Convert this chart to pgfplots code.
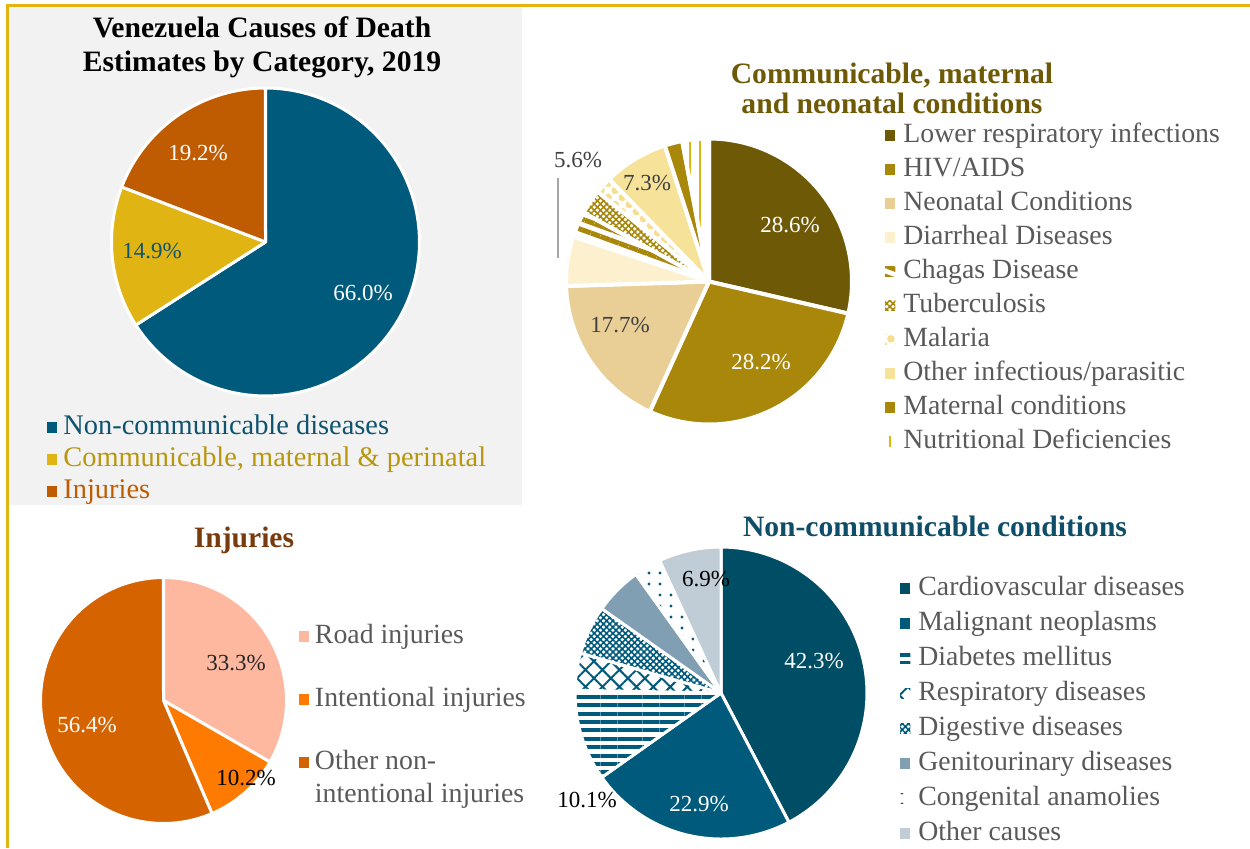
\documentclass[border=0pt]{standalone}
\usepackage{fontspec}
\setmainfont{Liberation Serif}
\usepackage{pgfplots}
\pgfplotsset{compat=1.18}
\usetikzlibrary{patterns.meta}

\definecolor{gold}{HTML}{E3B512}
\definecolor{panelgray}{HTML}{F2F2F2}
\definecolor{lgray}{HTML}{595959}
\definecolor{dgray}{HTML}{404040}
% main pie
\definecolor{ncd}{HTML}{005A7C}
\definecolor{commy}{HTML}{E0B412}
\definecolor{inj}{HTML}{BF5B00}
\definecolor{ncdtext}{HTML}{0E5370}
\definecolor{commtext}{HTML}{B8960E}
\definecolor{injtext}{HTML}{BF5B00}
% communicable
\definecolor{lri}{HTML}{6E5A06}
\definecolor{hiv}{HTML}{A8870A}
\definecolor{neo}{HTML}{E9CF96}
\definecolor{dia}{HTML}{FCF0CF}
\definecolor{mal}{HTML}{F5DF8F}
\definecolor{oth}{HTML}{F7E29A}
\definecolor{commtitle}{HTML}{6E5A06}
% non-communicable
\definecolor{cvd}{HTML}{004D66}
\definecolor{ncdb}{HTML}{005A7C}
\definecolor{gen}{HTML}{809FB2}
\definecolor{ncoth}{HTML}{C0CDD6}
\definecolor{ncdtitle}{HTML}{0E4E68}
% injuries
\definecolor{road}{HTML}{FFB8A0}
\definecolor{intj}{HTML}{FF7A00}
\definecolor{othinj}{HTML}{D46300}
\definecolor{injtitle}{HTML}{7A3B0C}

\newcommand\lblfont{\fontsize{11.5}{13}\selectfont}
\newcommand\ttlfont{\fontsize{14.8}{17}\selectfont\bfseries}

\gdef\piecum{0}
\gdef\pietotal{100}
\newcommand\resetpie[1]{\gdef\piecum{0}\gdef\pietotal{#1}}
\newcommand\slice[3]{%
  \pgfmathsetmacro\pieA{\piecum/\pietotal*360}%
  \pgfmathsetmacro\pieC{\piecum+#1}%
  \pgfmathsetmacro\pieB{\pieC/\pietotal*360}%
  \xdef\piecum{\pieC}%
  \edef\pietmp{\noexpand\addplot[\unexpanded{#2}, domain=\pieA:\pieB, samples=90] ({sin(x)},{cos(x)}) -- (axis cs:0,0) -- cycle;}%
  \pietmp
  \addlegendentry{#3}%
}

\pgfplotsset{
  pie/.style={hide axis, scale only axis, anchor=origin,
    xmin=-1, xmax=1, ymin=-1, ymax=1, clip=false,
    every axis plot/.append style={draw=white, line width=1.5pt, line join=round},
    legend image code/.code={\path[##1, draw=none] (0pt,0.7pt) rectangle (5.2pt,5.9pt);},
    legend style={draw=none, fill=none, inner sep=0pt, outer sep=0pt, anchor=north west,
      cells={anchor=base west},
      nodes={inner sep=0pt, text height=9.5pt, text depth=3pt},
      font=\fontsize{13.9}{16.5}\selectfont, text=lgray},
  },
}

\begin{document}
\begin{tikzpicture}
\begin{scope}[x=0.5pt,y=-0.5pt]
  \path[use as bounding box] (0,0) rectangle (1250,848);
  \fill[panelgray] (9,7) rectangle (522,505);
  \draw[gold, line width=1.25pt] (7.5,848) -- (7.5,5.5) -- (1250,5.5);
\end{scope}

% ---------------- main pie ----------------
\begin{axis}[pie, at={(132.75pt,-121pt)}, width=154pt, height=154pt,
  legend style={at={(axis description cs:-0.2094,-0.0617)}, row sep=3.5pt, column sep=3pt,
    font=\fontsize{14.2}{16.5}\selectfont}]
  \resetpie{100.1}
  \slice{66.0}{fill=ncd}{\textcolor{ncdtext}{Non-communicable diseases}}
  \slice{14.9}{fill=commy}{\textcolor{commtext}{Communicable, maternal \& perinatal}}
  \slice{19.2}{fill=inj}{\textcolor{injtext}{Injuries}}
\end{axis}

% ---------------- communicable pie ----------------
\begin{axis}[pie, at={(354.5pt,-140.75pt)}, width=143pt, height=143pt,
  every axis plot/.append style={line width=2pt},
  legend style={at={(axis description cs:1.1154,1.0542)}, row sep=4.5pt, column sep=4pt}]
  \resetpie{100}
  \slice{28.6}{fill=lri}{Lower respiratory infections}
  \slice{28.2}{fill=hiv}{HIV/AIDS}
  \slice{17.7}{fill=neo}{Neonatal Conditions}
  \slice{5.6}{fill=dia}{Diarrheal Diseases}
  \slice{2.9}{pattern={Lines[angle=-20,distance=5pt,line width=2.5pt]}, pattern color=hiv}{Chagas Disease}
  \slice{2.8}{pattern={Hatch[angle=45,distance=2.2pt,line width=0.8pt]}, pattern color=hiv}{Tuberculosis}
  \slice{1.9}{pattern={Dots[radius=1.9pt,distance=5pt,angle=45]}, pattern color=mal}{Malaria}
  \slice{7.3}{fill=oth}{Other infectious/parasitic}
  \slice{2.0}{fill=hiv}{Maternal conditions}
  \slice{3.0}{pattern={Lines[angle=90,distance=5pt,line width=1pt]}, pattern color=commy}{Nutritional Deficiencies}
\end{axis}

% ---------------- injuries pie ----------------
\begin{axis}[pie, at={(81.75pt,-350.25pt)}, width=123pt, height=123pt,
  legend style={at={(axis description cs:1.0508,0.811)}, row sep=19pt, column sep=2.8pt}]
  \resetpie{99.9}
  \slice{33.3}{fill=road}{Road injuries}
  \slice{10.2}{fill=intj}{Intentional injuries}
  \slice{56.4}{fill=othinj}{\begin{tabular}[t]{@{}l@{}}Other non-\\intentional injuries\end{tabular}}
\end{axis}

% ---------------- non-communicable pie ----------------
\begin{axis}[pie, at={(360.5pt,-346.5pt)}, width=146pt, height=146pt,
  legend style={at={(axis description cs:1.1130,0.9007)}, row sep=5pt, column sep=4pt}]
  \resetpie{100}
  \slice{42.3}{fill=cvd}{Cardiovascular diseases}
  \slice{22.9}{fill=ncdb}{Malignant neoplasms}
  \slice{10.1}{pattern={Lines[angle=0,distance=4.2pt,line width=2pt]}, pattern color=ncdb}{Diabetes mellitus}
  \slice{4.1}{pattern={Hatch[angle=45,distance=6pt,line width=1pt]}, pattern color=ncdb}{Respiratory diseases}
  \slice{5.4}{pattern={Hatch[angle=45,distance=2.2pt,line width=0.8pt]}, pattern color=ncdb}{Digestive diseases}
  \slice{5.3}{fill=gen}{Genitourinary diseases}
  \slice{3.0}{pattern={Dots[radius=0.8pt,distance=5.5pt]}, pattern color=ncdb}{Congenital anamolies}
  \slice{6.9}{fill=ncoth}{Other causes}
\end{axis}

% ---------------- titles and labels ----------------
\begin{scope}[x=0.5pt,y=-0.5pt]
  \node[anchor=base, font=\ttlfont] at (262,37) {Venezuela Causes of Death};
  \node[anchor=base, font=\ttlfont] at (262,71) {Estimates by Category, 2019};
  \node[anchor=base, font=\ttlfont, text=commtitle] at (892,83) {Communicable, maternal};
  \node[anchor=base, font=\ttlfont, text=commtitle] at (892,113) {and neonatal conditions};
  \node[anchor=base, font=\ttlfont, text=injtitle] at (244,547) {Injuries};
  \node[anchor=base, font=\ttlfont, text=ncdtitle] at (935,536) {Non-communicable conditions};

  \node[font=\lblfont, text=white] at (363,293) {66.0\%};
  \node[font=\lblfont, text=ncdtext] at (152,251) {14.9\%};
  \node[font=\lblfont, text=white] at (198,153) {19.2\%};

  \node[font=\lblfont, text=white] at (790,225) {28.6\%};
  \node[font=\lblfont, text=white] at (761,362) {28.2\%};
  \node[font=\lblfont, text=dgray] at (620,325) {17.7\%};
  \node[font=\lblfont, text=dgray] at (647,183) {7.3\%};
  \node[font=\lblfont, text=dgray] at (578,160) {5.6\%};
  \draw[color=gray!70, line width=0.6pt] (558,178) -- (558,258);

  \node[font=\lblfont, text=black!85] at (236,663) {33.3\%};
  \node[font=\lblfont, text=black] at (246,778) {10.2\%};
  \node[font=\lblfont, text=white] at (87,725) {56.4\%};

  \node[font=\lblfont, text=white] at (814,661) {42.3\%};
  \node[font=\lblfont, text=white] at (699,804) {22.9\%};
  \node[font=\lblfont, text=black] at (587,800) {10.1\%};
  \node[font=\lblfont, text=black] at (706,579) {6.9\%};
\end{scope}
\end{tikzpicture}
\end{document}
